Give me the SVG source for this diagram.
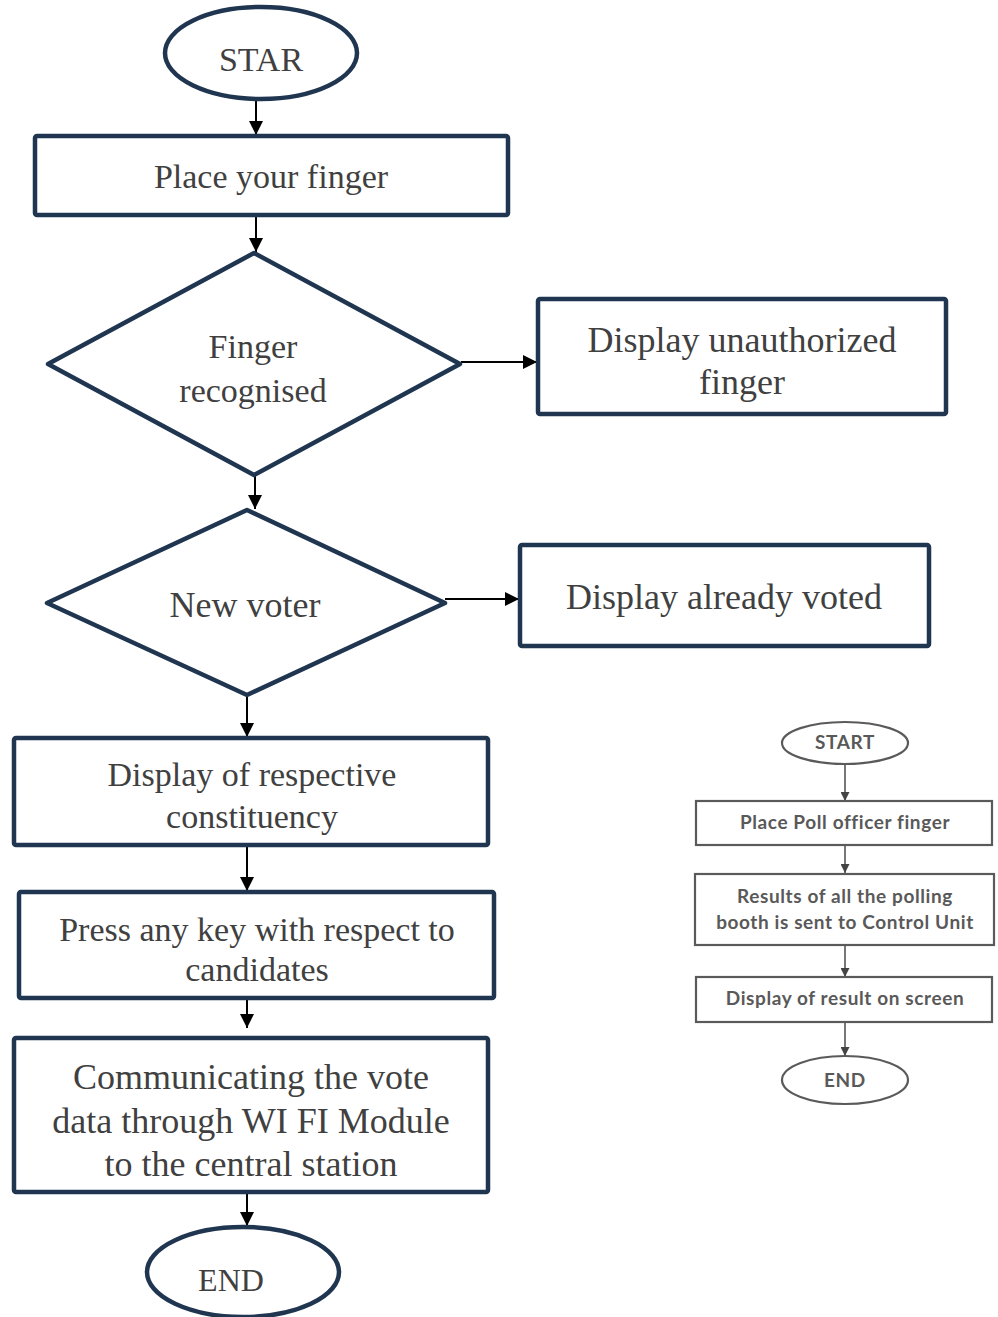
<svg xmlns="http://www.w3.org/2000/svg" width="998" height="1317" viewBox="0 0 998 1317">
<style>
.s{fill:#fff;stroke:#1f3550;stroke-width:4.5;stroke-linejoin:round}
.t{font-family:"Liberation Serif","Times New Roman",serif;fill:#404040;text-anchor:middle}
.c{stroke:#000;stroke-width:2;fill:none}
.g{fill:#fff;stroke:#5a5a5a;stroke-width:2.2}
.gt{font-family:Lato,"Liberation Sans",sans-serif;font-weight:700;fill:#595959;text-anchor:middle;font-size:19px;letter-spacing:0.6px}
.gc{stroke:#555;stroke-width:1.6;fill:none}
</style>
<defs>
<marker id="ab" viewBox="0 0 10 10" refX="10" refY="5" markerWidth="14" markerHeight="14" markerUnits="userSpaceOnUse" orient="auto">
<path d="M0,0 L10,5 L0,10 z" fill="#000"/>
</marker>
<marker id="ag" viewBox="0 0 10 10" refX="10" refY="5" markerWidth="9" markerHeight="9" markerUnits="userSpaceOnUse" orient="auto">
<path d="M0,0 L10,5 L0,10 z" fill="#444"/>
</marker>
</defs>
<rect width="998" height="1317" fill="#fff"/>

<g id="connectors">
<line class="c" x1="256" y1="100" x2="256" y2="135" marker-end="url(#ab)"/>
<line class="c" x1="256" y1="215" x2="256" y2="252" marker-end="url(#ab)"/>
<line class="c" x1="461" y1="362" x2="537" y2="362" marker-end="url(#ab)"/>
<line class="c" x1="255" y1="475" x2="255" y2="509" marker-end="url(#ab)"/>
<line class="c" x1="445" y1="599" x2="519" y2="599" marker-end="url(#ab)"/>
<line class="c" x1="247" y1="695" x2="247" y2="737" marker-end="url(#ab)"/>
<line class="c" x1="247" y1="845" x2="247" y2="891" marker-end="url(#ab)"/>
<line class="c" x1="247" y1="998" x2="247" y2="1028" marker-end="url(#ab)"/>
<line class="c" x1="247" y1="1192" x2="247" y2="1226" marker-end="url(#ab)"/>
<line class="gc" x1="845" y1="765" x2="845" y2="801" marker-end="url(#ag)"/>
<line class="gc" x1="845" y1="845" x2="845" y2="873" marker-end="url(#ag)"/>
<line class="gc" x1="845" y1="945" x2="845" y2="977" marker-end="url(#ag)"/>
<line class="gc" x1="845" y1="1022" x2="845" y2="1056" marker-end="url(#ag)"/>
</g>

<g id="start">
<ellipse class="s" cx="261" cy="53" rx="96" ry="46"/>
<text class="t" x="261" y="71" font-size="34">STAR</text>
</g>
<g id="place-finger">
<rect class="s" x="35" y="136" width="473" height="79" rx="2"/>
<text class="t" x="271" y="188" font-size="34">Place your finger</text>
</g>
<g id="finger-recognised">
<polygon class="s" points="254,253 460,364 254,475 48,364"/>
<text class="t" x="253" y="358" font-size="34">Finger</text>
<text class="t" x="253" y="402" font-size="34">recognised</text>
</g>
<g id="unauthorized">
<rect class="s" x="538" y="299" width="408" height="115" rx="2"/>
<text class="t" x="742" y="352" font-size="36">Display unauthorized</text>
<text class="t" x="742" y="394" font-size="36">finger</text>
</g>
<g id="new-voter">
<polygon class="s" points="247,510 445,603 247,695 47,603"/>
<text class="t" x="245" y="617" font-size="36">New voter</text>
</g>
<g id="already-voted">
<rect class="s" x="520" y="545" width="409" height="101" rx="2"/>
<text class="t" x="724" y="609" font-size="36">Display already voted</text>
</g>
<g id="constituency">
<rect class="s" x="14" y="738" width="474" height="107" rx="2"/>
<text class="t" x="252" y="786" font-size="34">Display of respective</text>
<text class="t" x="252" y="828" font-size="34">constituency</text>
</g>
<g id="press-key">
<rect class="s" x="19" y="892" width="475" height="106" rx="2"/>
<text class="t" x="257" y="941" font-size="34">Press any key with respect to</text>
<text class="t" x="257" y="981" font-size="34">candidates</text>
</g>
<g id="communicating">
<rect class="s" x="14" y="1038" width="474" height="154" rx="2"/>
<text class="t" x="251" y="1089" font-size="36">Communicating the vote</text>
<text class="t" x="251" y="1133" font-size="36">data through WI FI Module</text>
<text class="t" x="251" y="1176" font-size="36">to the central station</text>
</g>
<g id="end">
<ellipse class="s" cx="243" cy="1272" rx="96" ry="45"/>
<text class="t" x="231" y="1291" font-size="32">END</text>
</g>

<g id="r-start">
<ellipse class="g" cx="845" cy="743" rx="63" ry="21"/>
<text class="gt" x="845" y="749">START</text>
</g>
<g id="r-place">
<rect class="g" x="696" y="801" width="296" height="44"/>
<text class="gt" x="845" y="829">Place Poll officer finger</text>
</g>
<g id="r-results">
<rect class="g" x="695" y="874" width="299" height="71"/>
<text class="gt" x="845" y="903">Results of all the polling</text>
<text class="gt" x="845" y="929">booth is sent to Control Unit</text>
</g>
<g id="r-display">
<rect class="g" x="696" y="977" width="296" height="45"/>
<text class="gt" x="845" y="1005">Display of result on screen</text>
</g>
<g id="r-end">
<ellipse class="g" cx="845" cy="1080" rx="63" ry="24"/>
<text class="gt" x="845" y="1087">END</text>
</g>
</svg>
